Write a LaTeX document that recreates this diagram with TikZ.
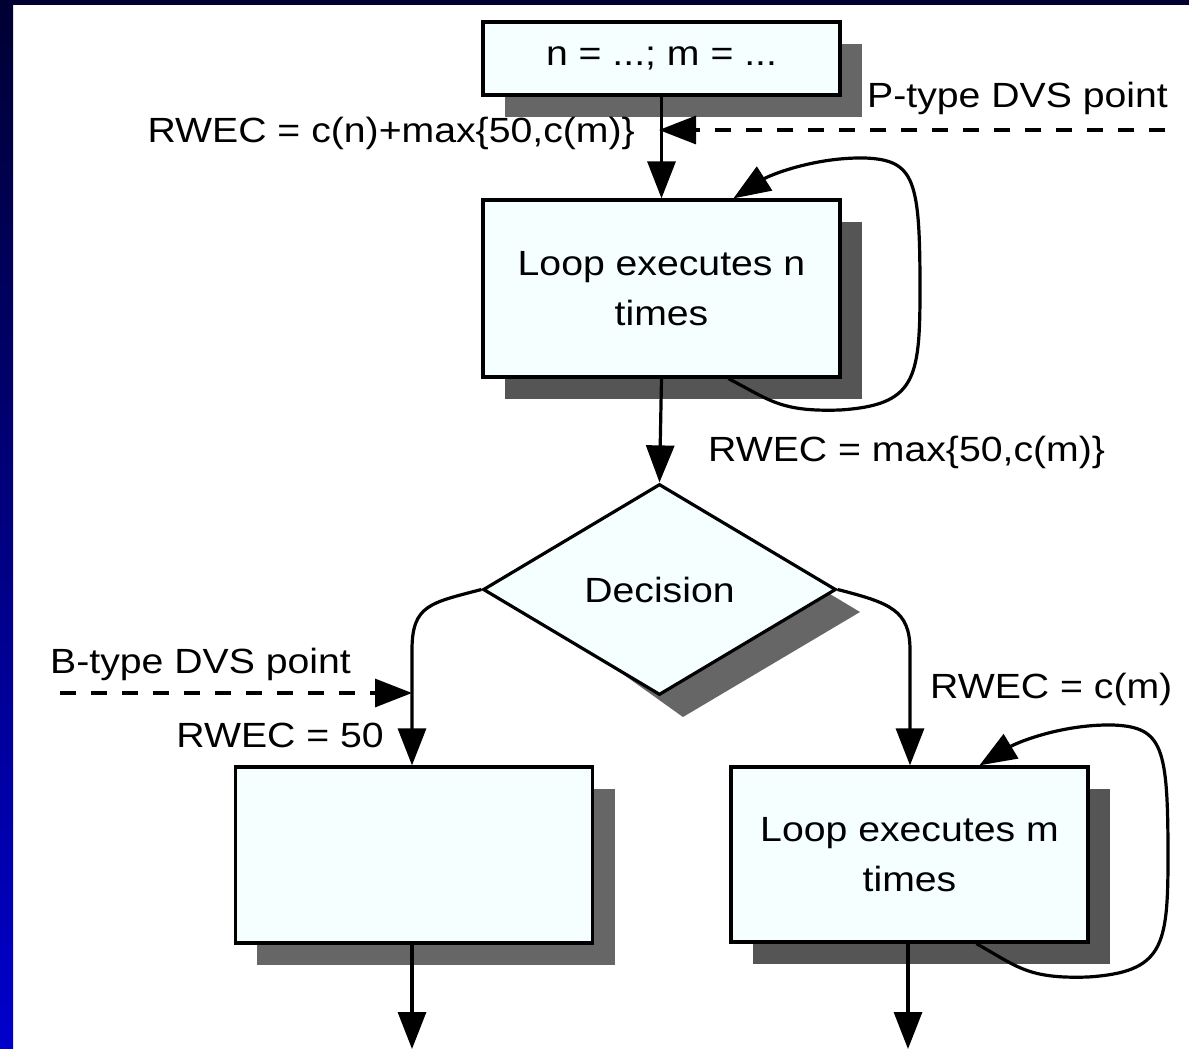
\documentclass[tikz,border=0pt]{standalone}
\usepackage{fontspec}
\setmainfont[FakeStretch=1.12]{Liberation Sans}
\usetikzlibrary{arrows.meta,calc,shapes.geometric}
\definecolor{boxfill}{HTML}{F5FFFF}
\definecolor{navytop}{HTML}{000033}
\definecolor{navybot}{HTML}{0000CC}
\definecolor{shadA}{HTML}{666666}
\definecolor{shadB}{HTML}{555555}
\tikzset{
  x=1pt,y=-1pt,
  box/.style={draw=black,line width=3.2pt,fill=boxfill,minimum width=357pt,align=center,font=\fontsize{35}{50}\selectfont,inner sep=0pt},
  dia/.style={draw=black,line width=3.2pt,fill=boxfill,diamond,minimum width=353pt,minimum height=211pt,aspect=1.67,inner sep=0pt,font=\fontsize{35}{40}\selectfont},
  lbl/.style={font=\fontsize{35}{40}\selectfont,inner sep=0pt},
  conn/.style={line width=3.2pt,-{Triangle[length=37pt,width=28pt]}},
  dconn/.style={line width=3.2pt,dash pattern=on 16pt off 15pt,-{Triangle[length=37pt,width=28pt]}},
  loopc/.style={line width=3.2pt,-{Triangle[length=37pt,width=28pt]}},
}
\begin{document}
\begin{tikzpicture}
\useasboundingbox (0,0) rectangle (1189,1049);
\fill[white] (0,0) rectangle (1189,1049);
\shade[top color=navytop,bottom color=navybot] (0,0) rectangle (13,1049);
\fill[navytop] (0,0) rectangle (1189,5);
% shadows
\fill[shadA] (505,44) rectangle (862,117);
\fill[shadB] (505,222) rectangle (862,399);
\fill[shadA] (505,590) -- (683,506) -- (860,612) -- (683,717) -- cycle;
\fill[shadA] (257,789) rectangle (615,965);
\fill[shadB] (753,789) rectangle (1110,964);
% nodes
\node[box,minimum height=73pt] (top) at (661.5,58.5) {n = ...; m = ...};
\node[box,minimum height=177pt] (l1) at (661.5,288.5) {Loop executes n\\times};
\node[dia] (dec) at (659.5,589.5) {Decision};
\node[box,minimum height=176pt] (bl) at (414,855) {};
\node[box,minimum height=175pt] (br) at (909.5,854.5) {Loop executes m\\times};
% labels
\node[lbl,anchor=east] (r1) at (635,133) {RWEC = c(n)+max\{50,c(m)\}};
\node[lbl,anchor=west] (p) at (867,98) {P-type DVS point};
\node[lbl,anchor=west] (r2) at (708,452) {RWEC = max\{50,c(m)\}};
\node[lbl,anchor=west] (b) at (50,664) {B-type DVS point};
\node[lbl,anchor=east] (r3) at (384,735) {RWEC = 50};
\node[lbl,anchor=west] (r4) at (930,689) {RWEC = c(m)};
\coordinate (pstart) at (1165,130);
\coordinate (bstart) at (60,693);
\coordinate (bend) at (412,693);
\coordinate (pend) at (659,130);
\coordinate (out1) at (412,1049);
\coordinate (out2) at (908,1049);
% connectors
\draw[conn] (top.south) -- (l1.north);
\draw[dconn] (pstart) -- (pend);
\draw[conn] (l1.south) -- (dec.north);
\draw[conn] (dec.west) .. controls (430,603) and (412,605) .. (412,650) -- (bl.north -| 412,0);
\draw[conn] (dec.east) .. controls (890,603) and (910,610) .. (910,650) -- (br.north -| 910,0);
\draw[dconn] (bstart) -- (bend);
\draw[conn] (bl.south -| 412,0) -- (out1);
\draw[conn] (br.south -| 908,0) -- (out2);
\draw[loopc] ($(l1.south west)+(247,0)$) .. controls (770,400) and (780,412) .. (840,410)
  .. controls (915,405) and (920,380) .. (920,290)
  .. controls (920,180) and (915,160) .. (865,158)
  .. controls (815,157) and (770,175) .. ($(l1.north west)+(252,0)$);
\draw[loopc] ($(br.south west)+(247,0)$) .. controls (1018,967) and (1028,979) .. (1088,977)
  .. controls (1163,972) and (1168,947) .. (1168,857)
  .. controls (1168,747) and (1163,727) .. (1113,725)
  .. controls (1063,724) and (1018,742) .. ($(br.north west)+(250,0)$);
\end{tikzpicture}
\end{document}
